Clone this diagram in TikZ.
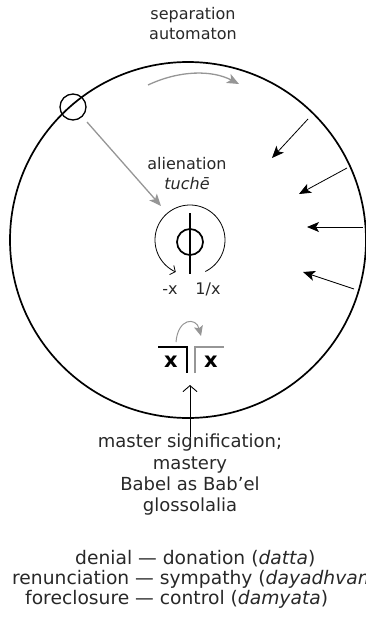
\documentclass[tikz,border=0pt]{standalone}
\usepackage{fontspec}
\setmainfont{DejaVu Sans}
\usetikzlibrary{arrows.meta}
\definecolor{txt}{RGB}{40,40,40}
\definecolor{greyline}{RGB}{150,150,150}
\tikzset{
  lbl/.style={inner sep=0pt, text=txt, text height=0.75em, text depth=0.25em, font=\fontsize{16}{19}\selectfont},
  biglbl/.style={inner sep=0pt, text=txt, text height=0.75em, text depth=0.25em, font=\fontsize{18}{21}\selectfont},
  botlbl/.style={inner sep=0pt, text=txt, text height=0.75em, text depth=0.25em, font=\fontsize{18.7}{21}\selectfont},
  bx/.style={inner sep=0pt, font=\fontsize{21}{24}\selectfont\bfseries},
  inarrow/.style={line width=0.8pt, -{Stealth[length=12pt,width=10pt,inset=3pt]}},
  greyarrow/.style={greyline, line width=1.3pt, -{Stealth[length=12pt,width=10pt,inset=3pt]}},
  thick2/.style={line width=1.7pt},
}
\begin{document}
\begin{tikzpicture}[x=1pt,y=-1pt]
\useasboundingbox (0,0) rectangle (365,632);
% main circle
\node[circle, draw, thick2, minimum size=356pt, inner sep=0pt] (big) at (188,240) {};
% small circle on the rim
\node[circle, draw, line width=1.3pt, minimum size=26pt, inner sep=0pt] (sc) at (73,107) {};
% labels
\node[lbl] (sep) at (193,17) {separation};
\node[lbl] (aut) at (193,37) {automaton};
\node[lbl] (ali) at (187,167) {alienation};
\node[lbl] (tu) at (187,187) {\itshape tuchē};
\node[lbl] (mx) at (170,292) {-x};
\node[lbl] (ix) at (208,292) {1/x};
% top grey arc arrow
\coordinate (ga1) at (148,85);
\coordinate (ga2) at (239,84);
\draw[greyarrow] (ga1) .. controls (180,70) and (212,70) .. (ga2);
% grey arrow from small circle
\coordinate (gt) at (161,206);
\draw[greyarrow] (sc) ++(14,15) -- (gt);
% phi symbol
\node[circle, draw, thick2, minimum size=26pt, inner sep=0pt] (phi) at (190,242) {};
\coordinate (phitop) at (190,213);
\coordinate (phibot) at (190,274);
\draw[thick2] (phitop) -- (phibot);
% circular arrow around phi
\draw[line width=0.8pt, -{Straight Barb[length=4pt,width=10pt]}]
  plot[domain=-64:246, samples=80, smooth] ({190+35*cos(\x)}, {240-35*sin(\x)});
% incoming arrows on the right
\coordinate (a1s) at (308,119); \coordinate (a1e) at (272,158);
\coordinate (a2s) at (347,168); \coordinate (a2e) at (299,194);
\coordinate (a3s) at (363,227); \coordinate (a3e) at (307,227);
\coordinate (a4s) at (354,289); \coordinate (a4e) at (303,272);
\draw[inarrow] (a1s) -- (a1e);
\draw[inarrow] (a2s) -- (a2e);
\draw[inarrow] (a3s) -- (a3e);
\draw[inarrow] (a4s) -- (a4e);
% bracket symbol
\node[bx] (x1) at (171,362) {x};
\node[bx] (x2) at (211,362) {x};
\coordinate (b1a) at (158,347); \coordinate (b1b) at (187,347); \coordinate (b1c) at (187,373);
\coordinate (b2a) at (195,373); \coordinate (b2b) at (195,347); \coordinate (b2c) at (224,347);
\draw[line width=1.5pt] (b1a) -- (b1b) -- (b1c);
\draw[line width=1.5pt, greyline] (b2a) -- (b2b) -- (b2c);
\coordinate (sa1) at (176,342); \coordinate (sa2) at (201,336);
\draw[greyline, line width=1pt, -{Stealth[length=10pt,width=9pt,inset=2pt]}] (sa1) .. controls (178,318) and (196,317) .. (sa2);
% master signification
\node[biglbl] (m1) at (190,445) {master signification;};
\node[biglbl] (m2) at (190,467) {mastery};
\node[biglbl] (m3) at (190,488) {Babel as Bab’el};
\node[biglbl] (m4) at (190,509) {glossolalia};
\coordinate (upe) at (190,385);
\draw[line width=0.9pt, -{Straight Barb[length=6pt,width=14pt]}] (m1.north -| upe) ++(0,-3) -- (upe);
% bottom lines
\node[botlbl, anchor=west] (d1) at (75,562) {denial — donation (\textit{datta})};
\node[botlbl, anchor=west] (d2) at (12,582) {renunciation — sympathy (\textit{dayadhvam})};
\node[botlbl, anchor=west] (d3) at (25,602) {foreclosure — control (\textit{damyata})};
\end{tikzpicture}
\end{document}
